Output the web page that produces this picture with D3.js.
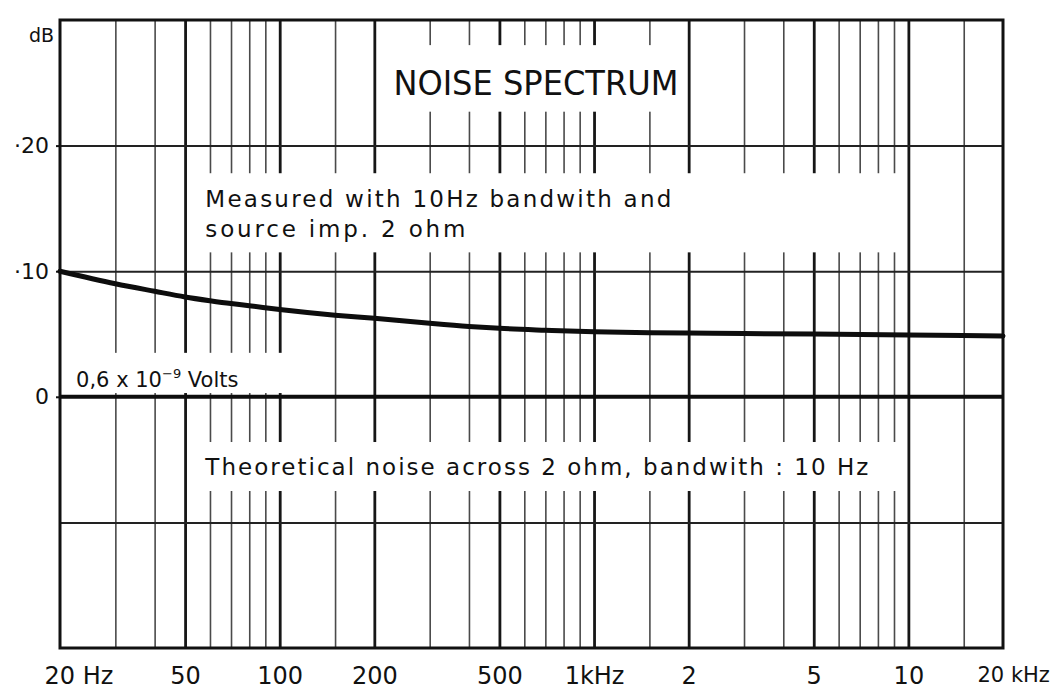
<!DOCTYPE html>
<html>
<head>
<meta charset="utf-8">
<script src="https://cdn.jsdelivr.net/npm/d3@7"></script>
<style>
  body { margin: 0; background: #fff; }
  svg text { font-family: "DejaVu Sans", sans-serif; fill: #111; }
</style>
</head>
<body>
<div id="chart"></div>
<script>
/**
 * DATA
 * */
// measured noise (Hz -> dB)
const measuredFreq = [20, 30, 40, 50, 60, 70, 80, 100, 150, 200, 300, 400, 500, 700, 1000, 1500, 2000, 3000, 5000, 10000, 20000];
const measuredDb = [10, 9.0, 8.4, 7.95, 7.65, 7.42, 7.25, 6.95, 6.5, 6.25, 5.85, 5.6, 5.45, 5.3, 5.17, 5.1, 5.07, 5.04, 5.0, 4.93, 4.85];

// theoretical noise level (flat 0 dB reference)
const theoryFreq = [20, 20000];
const theoryDb = [0, 0];

// grid
const gridFreqs = [30, 40, 50, 60, 70, 80, 90, 100, 150, 200, 300, 400, 500, 600, 700, 800, 900,
  1000, 1500, 2000, 3000, 4000, 5000, 6000, 7000, 8000, 9000, 10000, 15000];
const boldFreqs = [50, 100, 200, 500, 1000, 2000, 5000, 10000];
const gridDb = [20, 10, -10];

// tick labels
const xTickFreqs = [20, 50, 100, 200, 500, 1000, 2000, 5000, 10000, 20000];
const xTickLabels = ["20 Hz", "50", "100", "200", "500", "1kHz", "2", "5", "10", "20 kHz"];
const yTickDb = [20, 10, 0];
const yTickLabels = ["·20", "·10", "0"];

/**
 * SETUP
 * */
const width = 1053,
  height = 692,
  margin = { top: 20, right: 50, bottom: 44, left: 60 };

const svg = d3.select("#chart")
  .append("svg")
  .attr("width", width)
  .attr("height", height);

const xScale = d3.scaleLog()
  .domain([20, 20000])
  .range([margin.left, width - margin.right]);

const yScale = d3.scaleLinear()
  .domain([-20, 30])
  .range([height - margin.bottom, margin.top]);

const plotH = yScale(-20) - yScale(30);

// vertical grid lines
const xGrid = svg.append("g")
  .attr("transform", `translate(0,${yScale(-20)})`)
  .call(d3.axisBottom(xScale).tickValues(gridFreqs).tickSize(-plotH).tickFormat(""));
xGrid.select(".domain").remove();
xGrid.selectAll(".tick line")
  .attr("stroke", d => boldFreqs.includes(d) ? "#161616" : "#4a4a4a")
  .attr("stroke-width", d => boldFreqs.includes(d) ? 2.8 : 1.6);

// white boxes behind the notes (the paper grid is broken there)
const masks = [
  { f0: 205, f1: 1950, d0: 28, d1: 22.7 },
  { f0: 55, f1: 9500, d0: 17.8, d1: 11.5 },
  { f0: 21, f1: 120, d0: 3.5, d1: 0.3 },
  { f0: 55, f1: 9500, d0: -3.6, d1: -7.5 }
];
svg.append("g")
  .selectAll("rect")
  .data(masks)
  .join("rect")
  .attr("x", d => xScale(d.f0))
  .attr("width", d => xScale(d.f1) - xScale(d.f0))
  .attr("y", d => yScale(d.d0))
  .attr("height", d => yScale(d.d1) - yScale(d.d0))
  .attr("fill", "#fff");

// horizontal grid lines
const yGrid = svg.append("g")
  .attr("transform", `translate(${margin.left},0)`)
  .call(d3.axisRight(yScale).tickValues(gridDb).tickSize(xScale(20000) - xScale(20)).tickFormat(""));
yGrid.select(".domain").remove();
yGrid.selectAll(".tick line").attr("stroke", "#222").attr("stroke-width", 2);

// frame
svg.append("rect")
  .attr("x", xScale(20))
  .attr("y", yScale(30))
  .attr("width", xScale(20000) - xScale(20))
  .attr("height", plotH)
  .attr("fill", "none")
  .attr("stroke", "#111")
  .attr("stroke-width", 3);

// y axis labels
const yAxis = svg.append("g")
  .attr("transform", `translate(${margin.left},0)`)
  .call(d3.axisLeft(yScale).tickValues(yTickDb).tickSize(4).tickPadding(7)
    .tickFormat((d, i) => yTickLabels[i]));
yAxis.select(".domain").remove();
yAxis.selectAll(".tick line").attr("stroke", "#111").attr("stroke-width", 2);
yAxis.selectAll(".tick text")
  .attr("font-size", 22)
  .attr("font-family", "DejaVu Sans")
  .attr("fill", "#111");

svg.append("text")
  .attr("x", margin.left - 6)
  .attr("y", yScale(30) + 22)
  .attr("text-anchor", "end")
  .attr("font-size", 19)
  .text("dB");

// x axis labels
const last = xTickFreqs.length - 1;
const xAxis = svg.append("g")
  .attr("transform", `translate(0,${yScale(-20)})`)
  .call(d3.axisBottom(xScale).tickValues(xTickFreqs).tickSize(0).tickPadding(19)
    .tickFormat((d, i) => xTickLabels[i]));
xAxis.select(".domain").remove();
xAxis.selectAll(".tick text")
  .attr("font-size", (d, i) => i === last ? 21 : 24)
  .attr("font-family", "DejaVu Sans")
  .attr("fill", "#111")
  .attr("text-anchor", (d, i) => (i === 0 || i === last) ? "start" : "middle")
  .attr("dx", (d, i) => i === 0 ? -16 : i === last ? -26 : 0);

// curves
const line = d3.line()
  .x(d => xScale(d[0]))
  .y(d => yScale(d[1]))
  .curve(d3.curveMonotoneX);

svg.append("path")
  .datum(measuredFreq.map((f, i) => [f, measuredDb[i]]))
  .attr("d", line)
  .attr("fill", "none")
  .attr("stroke", "#0d0d0d")
  .attr("stroke-width", 5)
  .attr("stroke-linecap", "round");

svg.append("path")
  .datum(theoryFreq.map((f, i) => [f, theoryDb[i]]))
  .attr("d", line)
  .attr("fill", "none")
  .attr("stroke", "#0d0d0d")
  .attr("stroke-width", 4);

// annotations
svg.append("text")
  .attr("x", xScale(230))
  .attr("y", yScale(30) + 75)
  .attr("font-size", 33)
  .attr("textLength", 285)
  .attr("lengthAdjust", "spacingAndGlyphs")
  .text("NOISE SPECTRUM");

const note = svg.append("text")
  .attr("font-size", 23);
note.append("tspan")
  .attr("x", xScale(58))
  .attr("y", yScale(15.1))
  .attr("textLength", 466)
  .attr("lengthAdjust", "spacing")
  .text("Measured with 10Hz bandwith and");
note.append("tspan")
  .attr("x", xScale(58))
  .attr("y", yScale(12.7))
  .attr("textLength", 260)
  .attr("lengthAdjust", "spacing")
  .text("source imp. 2 ohm");

const volts = svg.append("text")
  .attr("x", xScale(22.5))
  .attr("y", yScale(0.8))
  .attr("font-size", 21);
volts.append("tspan").text("0,6 x 10");
volts.append("tspan").attr("dy", -9).attr("font-size", 13).text("−9");
volts.append("tspan").attr("dy", 9).text(" Volts");

svg.append("text")
  .attr("x", xScale(58))
  .attr("y", yScale(-6.2))
  .attr("font-size", 23)
  .attr("textLength", 663)
  .attr("lengthAdjust", "spacing")
  .text("Theoretical noise across 2 ohm, bandwith : 10 Hz");
</script>
</body>
</html>
